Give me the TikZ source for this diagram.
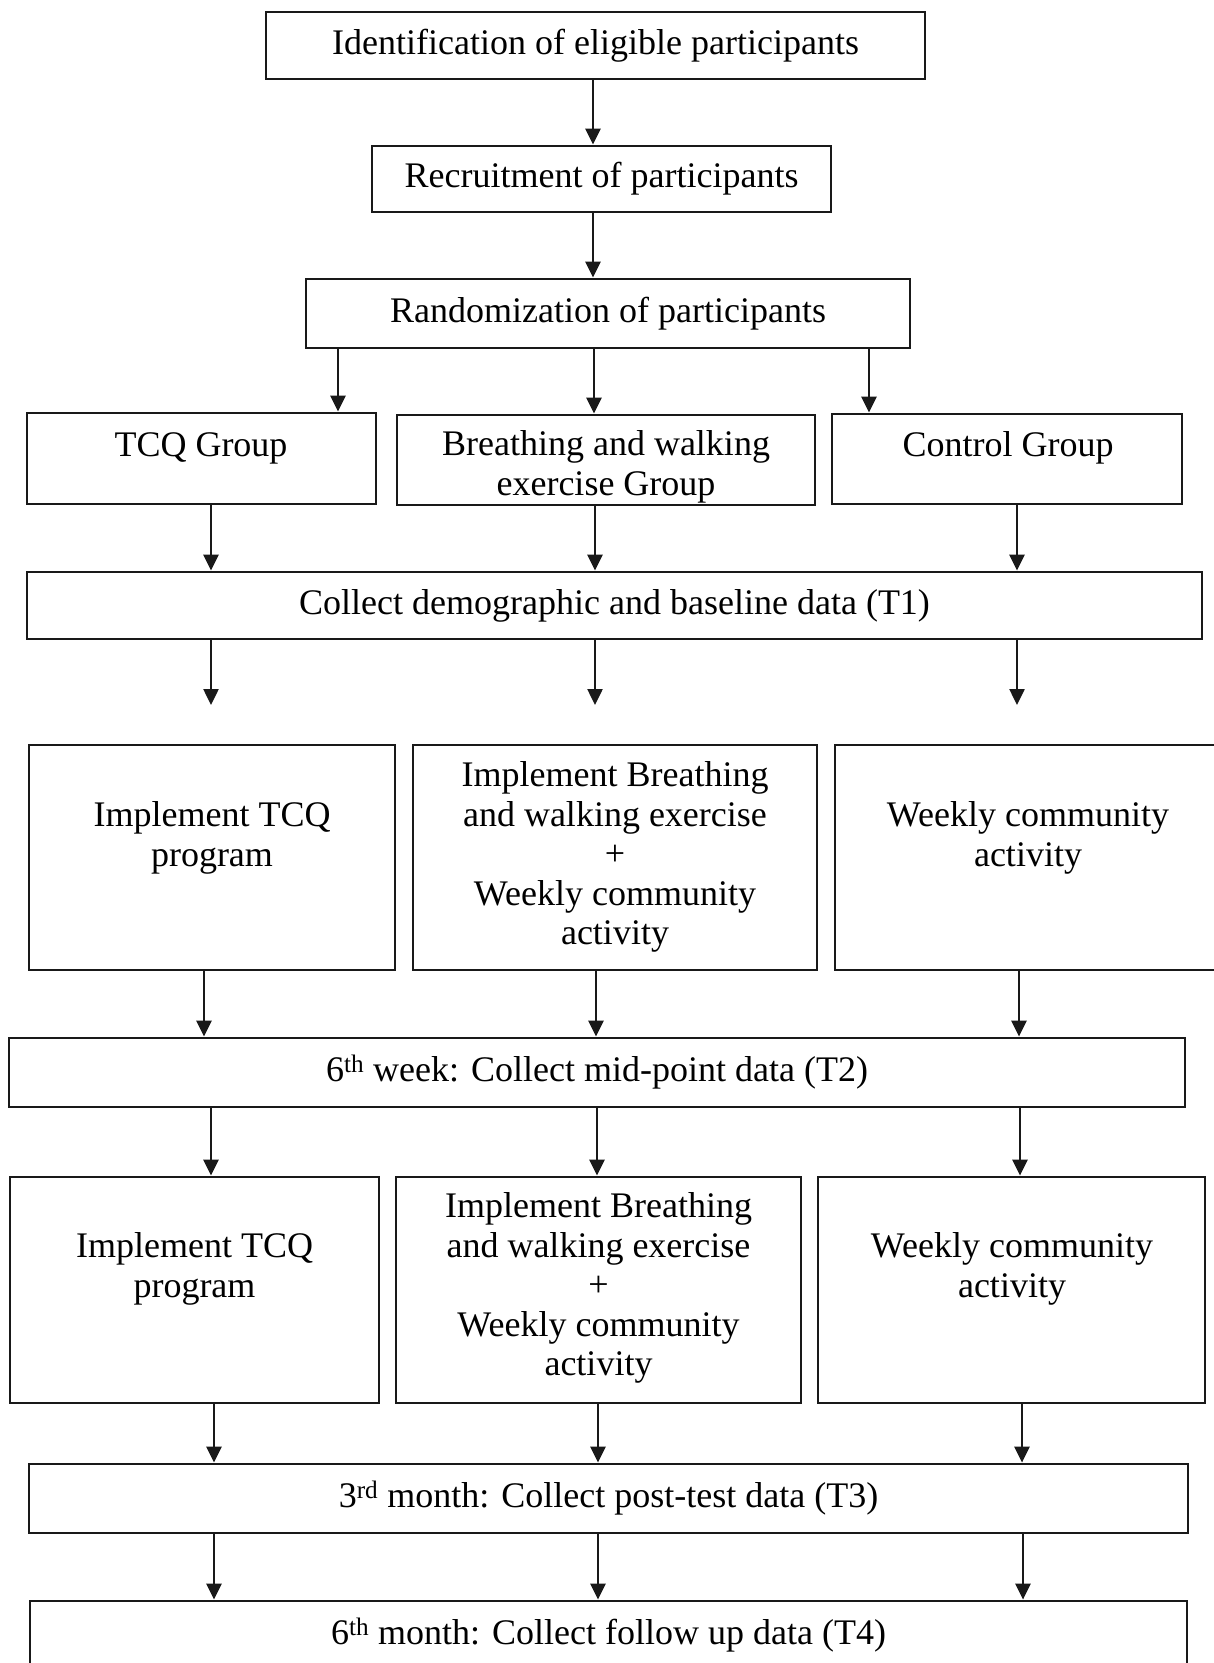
\documentclass[tikz,border=0pt]{standalone}
\usepackage{fontspec}
\setmainfont{Liberation Serif}
\usepackage{tikz}
\usetikzlibrary{arrows.meta}
\tikzset{
  flowbox/.style={
    draw=black!90,
    line width=2.8pt,
    inner sep=0pt,
    font=\fontsize{36}{39}\selectfont
  },
  boxtext/.style={
    align=center,
    inner sep=0pt,
    font=\fontsize{36}{39.5}\selectfont
  },
  flowarrow/.style={
    -{Triangle[length=16pt,width=15pt]},
    line width=2.5pt,
    color=black!90
  }
}

\begin{document}
\begin{tikzpicture}[x=1pt, y=-1pt]
    \useasboundingbox (0,0) rectangle (1214,1663);
    \fill[white] (0,0) rectangle (1214,1663);
    \clip (0,0) rectangle (1214,1663);

    % 1. recruitment steps
    \node[flowbox, minimum width=659pt, minimum height=67pt] (ident) at (595.5,45.5) {Identification of eligible participants};
    \node[flowbox, minimum width=459pt, minimum height=66pt] (recruit) at (601.5,179) {Recruitment of participants};
    \node[flowbox, minimum width=604pt, minimum height=69pt] (random) at (608,313.5) {Randomization of participants};

    % 2. the three groups
    \node[flowbox, minimum width=349pt, minimum height=91pt] (tcqgrp) at (201.5,458.5) {};
    \node[flowbox, minimum width=418pt, minimum height=90pt] (bwgrp) at (606,460) {};
    \node[flowbox, minimum width=350pt, minimum height=90pt] (ctrlgrp) at (1007,459) {};
    \node[boxtext] (tcqgrptxt) at (201,448) {TCQ Group};
    \node[boxtext] (bwgrptxt) at (606,467) {Breathing and walking\\exercise Group};
    \node[boxtext] (ctrlgrptxt) at (1008,448) {Control Group};

    % 3. baseline
    \node[flowbox, minimum width=1175pt, minimum height=67pt] (tone) at (614.5,605.5) {Collect demographic and baseline data (T1)};

    % 4. first six weeks
    \node[flowbox, minimum width=366pt, minimum height=225pt] (tcqa) at (212,857.5) {};
    \node[flowbox, minimum width=404pt, minimum height=225pt] (bwa) at (615,857.5) {};
    \node[flowbox, minimum width=390pt, minimum height=225pt] (ctrla) at (1030,857.5) {};
    \node[boxtext] (tcqatxt) at (212,838) {Implement TCQ\\program};
    \node[boxtext] (bwatxt) at (615,857) {Implement Breathing\\and walking exercise\\+\\Weekly community\\activity};
    \node[boxtext] (ctrlatxt) at (1028,838) {Weekly community\\activity};

    % 5. mid-point
    \node[flowbox, minimum width=1176pt, minimum height=69pt] (ttwo) at (597,1072.5) {6\textsuperscript{th} week: Collect mid-point data (T2)};

    % 6. second six weeks
    \node[flowbox, minimum width=369pt, minimum height=226pt] (tcqb) at (194.5,1290) {};
    \node[flowbox, minimum width=405pt, minimum height=226pt] (bwb) at (598.5,1290) {};
    \node[flowbox, minimum width=387pt, minimum height=226pt] (ctrlb) at (1011.5,1290) {};
    \node[boxtext] (tcqbtxt) at (194.5,1269) {Implement TCQ\\program};
    \node[boxtext] (bwbtxt) at (598.5,1288) {Implement Breathing\\and walking exercise\\+\\Weekly community\\activity};
    \node[boxtext] (ctrlbtxt) at (1012,1269) {Weekly community\\activity};

    % 7. post-test and follow up
    \node[flowbox, minimum width=1159pt, minimum height=69pt] (tthree) at (608.5,1498.5) {3\textsuperscript{rd} month: Collect post-test data (T3)};
    \node[flowbox, minimum width=1157pt, minimum height=69pt] (tfour) at (608.5,1635.5) {6\textsuperscript{th} month: Collect follow up data (T4)};

    % 8. free ends below T1
    \coordinate (gapa) at (211,705);
    \coordinate (gapb) at (595,705);
    \coordinate (gapc) at (1017,705);

    % 9. arrows
    \draw[flowarrow] (ident.south -| 593,0) -- (recruit.north -| 593,0);
    \draw[flowarrow] (recruit.south -| 593,0) -- (random.north -| 593,0);
    \foreach \x/\src/\dst in {338/random/tcqgrp, 594/random/bwgrp, 869/random/ctrlgrp,
                             211/tcqgrp/tone, 595/bwgrp/tone, 1017/ctrlgrp/tone,
                             204/tcqa/ttwo, 596/bwa/ttwo, 1019/ctrla/ttwo,
                             211/ttwo/tcqb, 597/ttwo/bwb, 1020/ttwo/ctrlb,
                             214/tcqb/tthree, 598/bwb/tthree, 1022/ctrlb/tthree,
                             214/tthree/tfour, 598/tthree/tfour, 1023/tthree/tfour}{
      \coordinate (col) at (\x,0);
      \draw[flowarrow] (\src.south -| col) -- (\dst.north -| col);
    }
    \foreach \gap in {gapa, gapb, gapc}{
      \draw[flowarrow] (tone.south -| \gap) -- (\gap);
    }

\end{tikzpicture}
\end{document}
